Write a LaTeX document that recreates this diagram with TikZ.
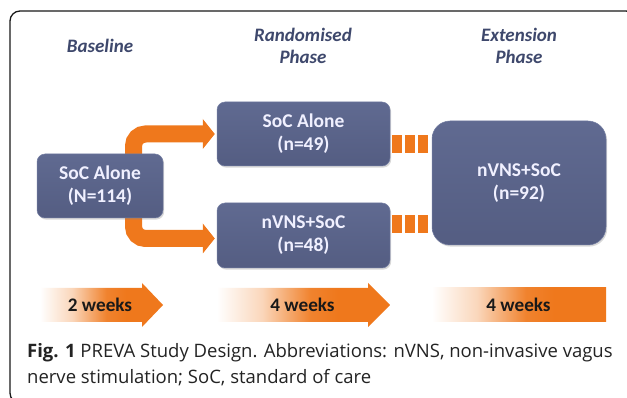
\documentclass[tikz,border=0pt]{standalone}
\usepackage{fontspec}
\setmainfont{Carlito}
\newfontfamily\capfont{Open Sans}
\usetikzlibrary{calc,shadows}
\definecolor{boxblue}{RGB}{84,93,130}
\definecolor{boxtop}{RGB}{96,106,145}
\definecolor{boxedge}{RGB}{115,125,162}
\definecolor{phasecol}{RGB}{62,72,108}
\definecolor{orng}{RGB}{239,120,28}
\definecolor{capcol}{RGB}{35,35,35}
\definecolor{framecol}{RGB}{25,25,25}
\pgfdeclarehorizontalshading{fadeorange}{100bp}{color(0bp)=(white); color(25bp)=(white); color(38bp)=(orng!30!white); color(52bp)=(orng!92!white); color(60bp)=(orng); color(100bp)=(orng)}
\begin{document}
\begin{tikzpicture}[x=1pt,y=-1pt,
  box/.style={draw=boxedge, line width=0.5pt, top color=boxtop, bottom color=boxblue,
    rounded corners=8pt, text=white!94!blue, inner sep=0pt, align=center,
    font=\bfseries\fontsize{19.5}{23}\selectfont,
    drop shadow={shadow xshift=1.2pt, shadow yshift=-1.6pt, opacity=0.3}},
  phase/.style={text=phasecol, font=\bfseries\itshape\fontsize{19}{22}\selectfont, align=center, inner sep=0pt},
  band/.style={draw=orng, line width=17pt, rounded corners=12pt},
  headtip/.style={fill=orng},
  dashcon/.style={draw=orng, line width=18pt, dash pattern=on 10pt off 3pt},
  timearrow/.style={shading=fadeorange},
  weeks/.style={text=black!90, font=\bfseries\fontsize{19.2}{22}\selectfont, inner sep=0pt},
  captext/.style={text=capcol, font=\capfont\fontsize{18.5}{22}\selectfont, inner sep=0pt, anchor=base west}
]
\useasboundingbox (0,0) rectangle (627,398);
\fill[white] (0,0) rectangle (627,398);
% frame
\begin{scope}
  \clip (0,0) rectangle (627,398);
  \draw[framecol, line width=1.3pt, rounded corners=10pt] (10,11) rectangle (636,403);
\end{scope}

% phase labels
\node[phase] (ph1) at (100,46) {Baseline};
\node[phase] (ph2) at (303,46) {Randomised\\Phase};
\node[phase] (ph3) at (519,46) {Extension\\Phase};

% box centres
\coordinate (cL) at (100,186);
\coordinate (cT) at (303.5,134);
\coordinate (cB) at (303.5,235.5);
\coordinate (cR) at (519,183);

% orange elbow connectors (behind the left box)
\draw[band] ($(cL)+(33.5,0)$) |- ($(cT)+(-99,0)$);
\draw[band] ($(cL)+(33.5,0)$) |- ($(cB)+(-99,3)$);

\node[box, minimum width=126pt, minimum height=64pt] (L) at (cL) {SoC Alone\\(N=114)};
\node[box, minimum width=173pt, minimum height=64pt] (T) at (cT) {SoC Alone\\(n=49)};
\node[box, minimum width=173pt, minimum height=65pt] (B) at (cB) {nVNS+SoC\\(n=48)};
\node[box, minimum width=174pt, minimum height=124pt, rounded corners=18pt] (R) at (cR) {nVNS+SoC\\(n=92)};

% arrow heads of elbow connectors
\fill[headtip] ($(T.west)+(-2,0)$) -- ++(-12,-15) -- ++(0,30) -- cycle;
\fill[headtip] ($(B.west)+(-2,3)$) -- ++(-12,-15) -- ++(0,30) -- cycle;

% dashed connectors to extension phase
\draw[dashcon] ($(T.east)+(2,10)$) -- ($(R.west|-T.east)+(-4,10)$);
\draw[dashcon] ($(B.east)+(2,-11.5)$) -- ($(R.west|-B.east)+(-4,-11.5)$);

% time arrows
\path[timearrow] (40,288) -- (142,288) -- (142,283) -- (163,305) -- (142,327) -- (142,322) -- (40,322) -- cycle;
\path[timearrow] (217,288) -- (368,288) -- (368,283) -- (390,305) -- (368,327) -- (368,322) -- (217,322) -- cycle;
\path[timearrow] (432,288) rectangle (606,322);
\node[weeks] (w1) at (100,305) {2 weeks};
\node[weeks] (w2) at (302.5,305) {4 weeks};
\node[weeks] (w3) at (518.5,305) {4 weeks};

% caption
\node[captext] (cap1) at (27,357) {\textbf{Fig. 1} PREVA Study Design. Abbreviations: nVNS, non-invasive vagus};
\node[captext] (cap2) at (27,383) {nerve stimulation; SoC, standard of care};
\end{tikzpicture}
\end{document}
